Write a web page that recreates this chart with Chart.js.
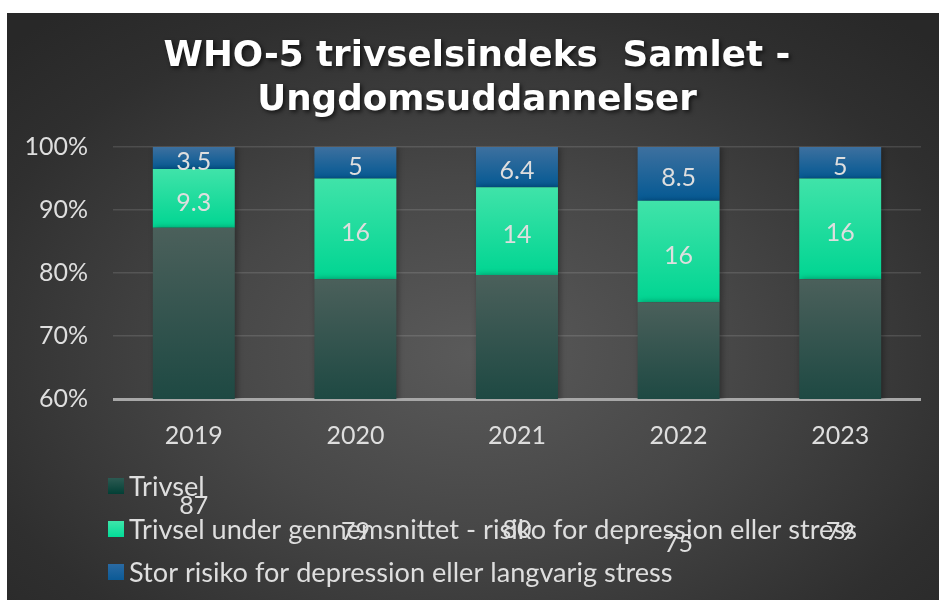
<!DOCTYPE html>
<html>
<head>
<meta charset="utf-8">
<script src="https://cdn.jsdelivr.net/npm/chart.js@4.4.1/dist/chart.umd.min.js"></script>
<style>
  html, body { margin: 0; padding: 0; background: #ffffff; width: 939px; height: 600px; overflow: hidden; }
  #wrap {
    position: absolute; left: 7px; top: 13px; width: 932px; height: 587px;
    background: radial-gradient(ellipse 70% 75% at 50% 58%, #5a5a5a 0%, #474747 40%, #2f2f2f 80%, #282828 100%);
  }
</style>
</head>
<body>
<div id="wrap"><canvas id="c"></canvas></div>
<script>
// ---- data ----
const categories = ['2019', '2020', '2021', '2022', '2023'];
const trivsel   = [87, 79, 80, 75, 79];
const underAvg  = [9.3, 16, 14, 16, 16];
const bigRisk   = [3.5, 5, 6.4, 8.5, 5];
const seriesNames = [
  'Trivsel',
  'Trivsel under gennemsnittet - risiko for depression eller stress',
  'Stor risiko for depression eller langvarig stress'
];
const yTicks = [60, 70, 80, 90, 100];
const titleLines = ['WHO-5 trivselsindeks  Samlet -', 'Ungdomsuddannelser'];

// 100% stacked shares built from the values above
const rawSeries = [trivsel, underAvg, bigRisk];
const totals = categories.map((_, i) => rawSeries.reduce((s, a) => s + a[i], 0));
const shares = rawSeries.map(a => a.map((v, i) => v / totals[i] * 100));

const gradStops = [
  ['#4b605b', '#1e4943'],
  ['#40e3a9', '#00d592'],
  ['#3d709f', '#045993']
];
const legendSwatch = [
  ['#2c5a52', '#023f35'],
  ['#3ee6aa', '#02dc98'],
  ['#2a6aa3', '#0b5a96']
];

function segBounds(di, i) {
  let s = 0;
  for (let k = 0; k < di; k++) s += shares[k][i];
  return [s, s + shares[di][i]];
}

function makeBg(di) {
  return (ctx) => {
    const chart = ctx.chart;
    const area = chart.chartArea;
    const y = chart.scales.y;
    if (!area || !y || ctx.dataIndex === undefined) return gradStops[di][1];
    const [s, e] = segBounds(di, ctx.dataIndex);
    const top = y.getPixelForValue(Math.min(e, 100));
    const bot = Math.min(y.getPixelForValue(s), area.bottom);
    if (!isFinite(top) || !isFinite(bot) || bot - top < 1) return gradStops[di][1];
    const g = chart.ctx.createLinearGradient(0, top, 0, bot);
    g.addColorStop(0, gradStops[di][0]);
    g.addColorStop(1, gradStops[di][1]);
    return g;
  };
}

const TEXT = '#dedede';
const FONT = 'Lato, "Open Sans", sans-serif';

const titlePlugin = {
  id: 'titlePlugin',
  beforeDraw(chart) {
    const c = chart.ctx;
    c.save();
    let size = 34;
    c.font = 'bold ' + size + 'px "DejaVu Sans", Verdana, sans-serif';
    const w = c.measureText(titleLines[0]).width;
    size = size * 627 / w;
    c.font = 'bold ' + size.toFixed(2) + 'px "DejaVu Sans", Verdana, sans-serif';
    c.fillStyle = '#ffffff';
    c.textAlign = 'center';
    c.textBaseline = 'alphabetic';
    c.shadowColor = 'rgba(0,0,0,0.65)';
    c.shadowBlur = 4;
    c.shadowOffsetX = 2;
    c.shadowOffsetY = 2;
    c.fillText(titleLines[0], 470, 53);
    c.fillText(titleLines[1], 470, 97);
    c.restore();
  }
};

const shadowPlugin = {
  id: 'shadowPlugin',
  beforeDatasetsDraw(chart) {
    const c = chart.ctx;
    c.save();
    c.shadowColor = 'rgba(0,0,0,0.35)';
    c.shadowBlur = 6;
    c.shadowOffsetX = 2;
    c.shadowOffsetY = 0;
  },
  afterDatasetsDraw(chart) {
    chart.ctx.restore();
  }
};

const labelPlugin = {
  id: 'labelPlugin',
  afterDatasetsDraw(chart) {
    const c = chart.ctx;
    const y = chart.scales.y;
    c.save();
    c.font = '25px ' + FONT;
    c.fillStyle = TEXT;
    c.textAlign = 'center';
    c.textBaseline = 'middle';
    chart.data.datasets.forEach((ds, di) => {
      const meta = chart.getDatasetMeta(di);
      meta.data.forEach((bar, i) => {
        const [s, e] = segBounds(di, i);
        const py = y.getPixelForValue((s + e) / 2) + 4;
        c.fillText(String(rawSeries[di][i]), bar.x, py);
      });
    });
    c.restore();
  }
};

const legendPlugin = {
  id: 'legendPlugin',
  afterDraw(chart) {
    const c = chart.ctx;
    c.save();
    let size = 22;
    c.font = size + 'px ' + FONT;
    const w = c.measureText(seriesNames[1]).width;
    size = size * 728 / w;
    c.font = size.toFixed(2) + 'px ' + FONT;
    c.textBaseline = 'middle';
    c.textAlign = 'left';
    const rows = [473, 516, 559];
    seriesNames.forEach((n, i) => {
      const g = c.createLinearGradient(0, rows[i] - 8, 0, rows[i] + 8);
      g.addColorStop(0, legendSwatch[i][0]);
      g.addColorStop(1, legendSwatch[i][1]);
      c.fillStyle = g;
      c.fillRect(101, rows[i] - 8, 16, 16);
      c.fillStyle = TEXT;
      c.fillText(n, 122, rows[i] + 1);
    });
    c.restore();
  }
};

new Chart(document.getElementById('c'), {
  type: 'bar',
  data: {
    labels: categories,
    datasets: shares.map((arr, di) => ({
      label: seriesNames[di],
      data: arr,
      backgroundColor: makeBg(di),
      borderWidth: 0,
      categoryPercentage: 1.0,
      barPercentage: 0.507
    }))
  },
  options: {
    responsive: true,
    maintainAspectRatio: false,
    animation: false,
    events: [],
    layout: { padding: { top: 134, right: 18, left: 0, bottom: 0 } },
    plugins: {
      legend: { display: false },
      title: { display: false },
      tooltip: { enabled: false }
    },
    scales: {
      x: {
        stacked: true,
        grid: { display: false, drawTicks: false },
        border: { display: false },
        ticks: { color: TEXT, font: { family: FONT, size: 25 }, padding: 22 },
        afterFit(s) { s.height = 201; }
      },
      y: {
        stacked: true,
        min: 60,
        max: 100,
        afterBuildTicks(s) { s.ticks = yTicks.map(v => ({ value: v })); },
        ticks: {
          color: TEXT,
          font: { family: FONT, size: 25 },
          padding: 25,
          callback: (v) => v + '%'
        },
        grid: {
          drawTicks: false,
          color: (ctx) => ctx.tick && ctx.tick.value === 60 ? '#a8a8a8' : 'rgba(255,255,255,0.12)',
          lineWidth: (ctx) => ctx.tick && ctx.tick.value === 60 ? 3 : 1.5
        },
        border: { display: false },
        afterFit(s) { s.width = 106; }
      }
    }
  },
  plugins: [titlePlugin, shadowPlugin, labelPlugin, legendPlugin]
});
</script>
</body>
</html>
